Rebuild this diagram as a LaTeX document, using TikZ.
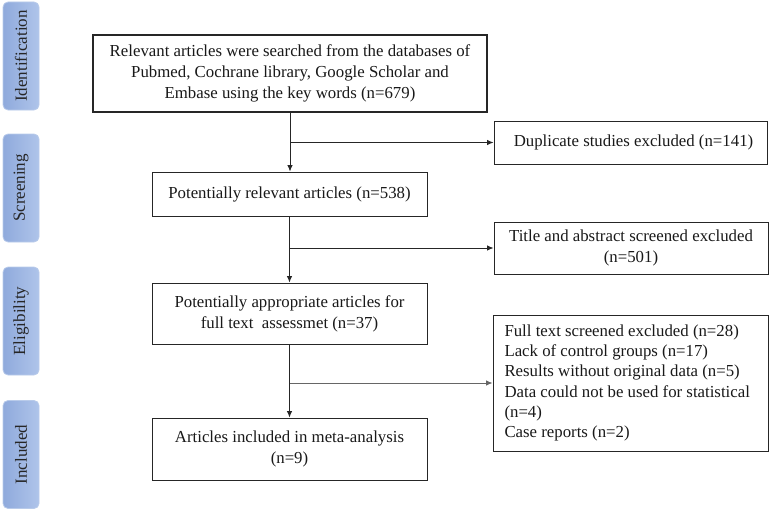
\documentclass[tikz,border=0pt]{standalone}
\usepackage{fontspec}
\setmainfont{Liberation Serif}
\usetikzlibrary{arrows.meta,shapes.misc}
\definecolor{stagetop}{HTML}{AFC4EA}
\definecolor{stagebot}{HTML}{8FAADC}
\definecolor{stageedge}{HTML}{B9CBEA}
\tikzset{
  x=1pt,y=1pt,
  stagebox/.style={draw=stageedge,line width=0.8pt,rounded corners=5pt,left color=stagebot,right color=stagetop,
    minimum width=108pt,minimum height=36pt,inner sep=0pt,rotate=90,
    font=\fontsize{17}{18}\selectfont,text=black!85},
  flowbox/.style={draw=black!85,line width=0.9pt,fill=white,inner sep=0pt,align=center,
    font=\fontsize{16.8}{21}\selectfont,text=black!90},
  conn/.style={draw=black!85,line width=0.9pt},
  arr/.style={conn,-{Latex[length=6.5pt,width=5.5pt]}},
}
\begin{document}
\begin{tikzpicture}
\useasboundingbox (0,0) rectangle (771,-511);
% stage labels
\node[stagebox] (sid) at (21,-56) {Identification};
\node[stagebox] (ssc) at (21,-188) {Screening};
\node[stagebox] (sel) at (21,-321) {Eligibility};
\node[stagebox] (sin) at (21,-454.5) {Included};
% main boxes
\node[flowbox,line width=1.6pt,minimum width=394pt,minimum height=77pt] (b1) at (290,-73.5)
  {Relevant articles were searched from the databases of\\Pubmed, Cochrane library, Google Scholar and\\Embase using the key words (n=679)};
\node[flowbox,minimum width=275pt,minimum height=44pt] (b2) at (289.5,-194)
  {Potentially relevant articles (n=538)};
\node[flowbox,minimum width=275pt,minimum height=61pt] (b4) at (289.5,-313.5)
  {Potentially appropriate articles for\\full text\ \ assessmet (n=37)};
\node[flowbox,minimum width=275pt,minimum height=62pt] (b6) at (289.5,-449)
  {Articles included in meta-analysis\\(n=9)};
% exclusion boxes
\node[flowbox,minimum width=273pt,minimum height=43pt] (dup) at (630.5,-142.5)
  {\hspace*{6pt}Duplicate studies excluded (n=141)};
\node[flowbox,minimum width=274pt,minimum height=52pt] (tit) at (631,-248)
  {Title and abstract screened excluded\\(n=501)};
\node[flowbox,minimum width=275pt,minimum height=136pt,align=left,font=\fontsize{16.8}{20.2}\selectfont] (ft) at (630.5,-383)
  {\parbox{252pt}{Full text screened excluded (n=28)\\Lack of control groups (n=17)\\Results without original data (n=5)\\Data could not be used for statistical\\(n=4)\\Case reports (n=2)}};
% connectors
\draw[arr] (b1.south) -- (b1.south |- b2.north);
\draw[arr] (b1.south |- dup.west) -- (dup.west);
\draw[arr] (b2.south) -- (b4.north);
\draw[arr] (b2.south |- tit.west) -- (tit.west);
\draw[arr] (b4.south) -- (b6.north);
\draw[arr,draw=black!60] ([xshift=0.8pt]b4.south |- ft.west) -- (ft.west);
\end{tikzpicture}
\end{document}
